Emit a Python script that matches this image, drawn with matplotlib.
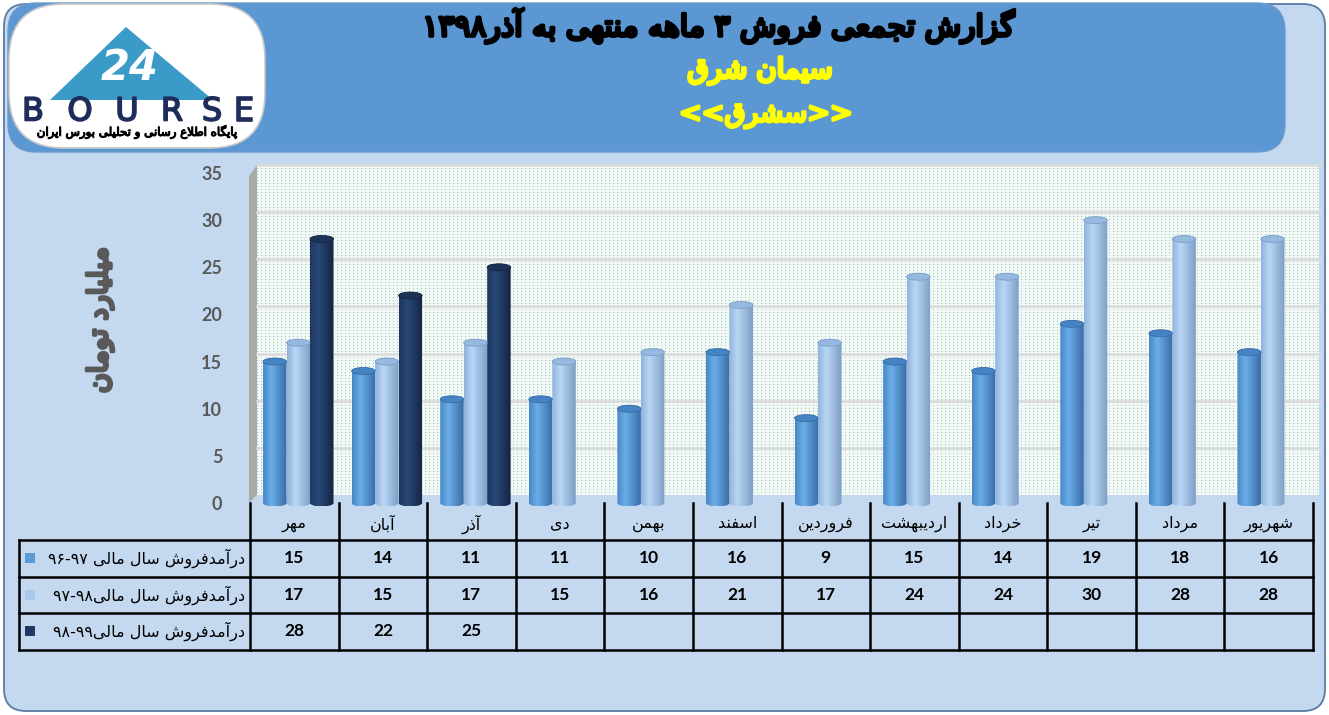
import re
import numpy as np
import matplotlib
matplotlib.use('Agg')
import matplotlib.pyplot as plt
import matplotlib.patheffects as pe
from matplotlib.patches import FancyBboxPatch, Ellipse, Polygon, Rectangle
from matplotlib import transforms

# data
months = ['مهر', 'آبان', 'آذر', 'دی', 'بهمن', 'اسفند', 'فروردین', 'اردیبهشت',
          'خرداد', 'تیر', 'مرداد', 'شهریور']
sales_96_97 = [15, 14, 11, 11, 10, 16, 9, 15, 14, 19, 18, 16]
sales_97_98 = [17, 15, 17, 15, 16, 21, 17, 24, 24, 30, 28, 28]
sales_98_99 = [28, 22, 25]
series_names = ['درآمدفروش سال مالی ۹۷-۹۶', 'درآمدفروش سال مالی۹۸-۹۷', 'درآمدفروش سال مالی۹۹-۹۸']
yticks = [0, 5, 10, 15, 20, 25, 30, 35]
title = 'گزارش تجمعی فروش ۳ ماهه منتهی به آذر۱۳۹۸'
company = 'سیمان شرق'
symbol = '<<سشرق>>'
ylabel = 'میلیارد تومان'
tagline = 'پایگاه اطلاع رسانی و تحلیلی بورس ایران'

# small persian shaper (matplotlib has no arabic shaping / bidi)
FORMS = {
    'ا': ('\uFE8D', '\uFE8E', None, None), 'آ': ('\uFE81', '\uFE82', None, None),
    'ب': ('\uFE8F', '\uFE90', '\uFE91', '\uFE92'), 'پ': ('\uFB56', '\uFB57', '\uFB58', '\uFB59'),
    'ت': ('\uFE95', '\uFE96', '\uFE97', '\uFE98'), 'ج': ('\uFE9D', '\uFE9E', '\uFE9F', '\uFEA0'),
    'ح': ('\uFEA1', '\uFEA2', '\uFEA3', '\uFEA4'), 'خ': ('\uFEA5', '\uFEA6', '\uFEA7', '\uFEA8'),
    'د': ('\uFEA9', '\uFEAA', None, None), 'ذ': ('\uFEAB', '\uFEAC', None, None),
    'ر': ('\uFEAD', '\uFEAE', None, None), 'ز': ('\uFEAF', '\uFEB0', None, None),
    'س': ('\uFEB1', '\uFEB2', '\uFEB3', '\uFEB4'), 'ش': ('\uFEB5', '\uFEB6', '\uFEB7', '\uFEB8'),
    'ط': ('\uFEC1', '\uFEC2', '\uFEC3', '\uFEC4'), 'ع': ('\uFEC9', '\uFECA', '\uFECB', '\uFECC'),
    'ف': ('\uFED1', '\uFED2', '\uFED3', '\uFED4'), 'ق': ('\uFED5', '\uFED6', '\uFED7', '\uFED8'),
    'ل': ('\uFEDD', '\uFEDE', '\uFEDF', '\uFEE0'), 'م': ('\uFEE1', '\uFEE2', '\uFEE3', '\uFEE4'),
    'ن': ('\uFEE5', '\uFEE6', '\uFEE7', '\uFEE8'), 'ه': ('\uFEE9', '\uFEEA', '\uFEEB', '\uFEEC'),
    'و': ('\uFEED', '\uFEEE', None, None), 'ی': ('\uFBFC', '\uFBFD', '\uFBFE', '\uFBFF'),
    'گ': ('\uFB92', '\uFB93', '\uFB94', '\uFB95'),
}
LAMALEF = {'ا': ('\uFEFB', '\uFEFC'), 'آ': ('\uFEF5', '\uFEF6')}
MIRROR = {'<': '>', '>': '<', '(': ')', ')': '('}


def shape(s):
    out = []
    i = 0
    while i < len(s):
        c = s[i]
        if c not in FORMS:
            out.append(c)
            i += 1
            continue
        prev = s[i - 1] if i > 0 else ''
        jp = prev in FORMS and FORMS[prev][2] is not None
        if c == 'ل' and i + 1 < len(s) and s[i + 1] in LAMALEF:
            out.append(LAMALEF[s[i + 1]][1 if jp else 0])
            i += 2
            continue
        nxt = s[i + 1] if i + 1 < len(s) else ''
        jn = FORMS[c][2] is not None and nxt in FORMS
        f = FORMS[c]
        out.append(f[3] if (jp and jn) else f[1] if jp else f[2] if jn else f[0])
        i += 1
    return ''.join(out)


def fa(s):
    toks = re.findall(r'[0-9\u06F0-\u06F9]+|.', shape(s))
    return ''.join(MIRROR.get(t, t) for t in reversed(toks))


def heavy(color, w=1.6):
    # dejavu has no bold arabic, so thicken with a stroke
    return [pe.withStroke(linewidth=w, foreground=color)]


W, H = 1329, 715
fig = plt.figure(figsize=(W / 100, H / 100), dpi=100)
fig.patch.set_facecolor('white')

bg = fig.add_axes([0, 0, 1, 1], zorder=0)
bg.set_xlim(0, W)
bg.set_ylim(H, 0)
bg.axis('off')

# frame and banner
bg.add_patch(FancyBboxPatch((4, 4), W - 8, H - 8, boxstyle='round,pad=0,rounding_size=22',
                            facecolor='#C4D9F0', edgecolor='#5A7AA6', lw=1.3))
bg.add_patch(FancyBboxPatch((8, 3), 1277, 149, boxstyle='round,pad=0,rounding_size=28',
                            facecolor='#5B97D3', edgecolor='#6E9BCB', lw=1))

# logo
bg.add_patch(FancyBboxPatch((9, 4), 256, 144, boxstyle='round,pad=0,rounding_size=55',
                            facecolor='white', edgecolor='#C8C8C8', lw=1.2))
bg.add_patch(Polygon([(50, 100), (126, 27), (213, 100)], closed=True, facecolor='#3A9BC8', edgecolor='none'))
bg.text(130, 68, '24', color='white', fontsize=30, fontweight='bold', fontstyle='italic',
        ha='center', va='center', family='DejaVu Sans')
for ch, xc in zip('BOURSE', [33, 80, 127, 172, 212, 244]):
    bg.text(xc, 112, ch, color='#1F2D5A', fontsize=23, ha='center', va='center', family='DejaVu Sans',
            path_effects=heavy('#1F2D5A', 1.2))
bg.text(137, 132, fa(tagline), fontsize=8.5, ha='center', va='center',
        family='DejaVu Sans', color='black', path_effects=heavy('black', 0.8))

# titles
bg.text(719, 26, fa(title), fontsize=21.5, ha='center', va='center',
        family='DejaVu Sans', color='black', path_effects=heavy('black', 2.4))
bg.text(760, 71, fa(company), fontsize=20, ha='center', va='center',
        family='DejaVu Sans', color='#FFFF00', path_effects=heavy('#FFFF00', 2.4))
bg.text(766, 115, fa(symbol), fontsize=19.5, ha='center', va='center',
        family='DejaVu Sans', color='#FFFF00', path_effects=heavy('#FFFF00', 2.2))

# y label
bg.text(100, 320, fa(ylabel), rotation=90, fontsize=19.5, ha='center', va='center',
        family='DejaVu Sans', color='#595959', path_effects=heavy('#595959', 2.4))

# back wall (dotted) and side wall
wall = np.ones((330, 1062, 3)) * np.array([0.95, 0.975, 0.965])
wall[::3, ::4] = [0.60, 0.79, 0.73]
bg.imshow(wall, extent=[257, 1319, 495, 165], interpolation='nearest', aspect='auto', zorder=1)
bg.add_patch(Polygon([(249, 176), (257, 165), (257, 495), (249, 503)], closed=True,
                     facecolor='#A8ABA8', edgecolor='none', zorder=1))
bg.set_xlim(0, W)
bg.set_ylim(H, 0)

# chart axes
X0, X1 = 250, 1313
ymin = -0.8
px_per_unit = 330 / 35
Ytop = 173
Ybot = 503 + (-ymin) * px_per_unit
ax = fig.add_axes([X0 / W, (H - Ybot) / H, (X1 - X0) / W, (Ybot - Ytop) / H], zorder=1)
ax.patch.set_alpha(0)
for sp in ax.spines.values():
    sp.set_visible(False)

shift = transforms.ScaledTranslation(7 / 100, 8 / 100, fig.dpi_scale_trans)
for v in yticks[1:]:
    ax.plot([-0.5, 11.5], [v, v], transform=ax.transData + shift, color='#DADADA', lw=1.8,
            zorder=2, clip_on=False)


def gradient(stops):
    pos = [0, 0.35, 1]
    t = np.linspace(0, 1, 64)
    cols = [matplotlib.colors.to_rgb(c) for c in stops]
    arr = np.stack([np.interp(t, pos, [c[k] for c in cols]) for k in range(3)], axis=-1)
    return arr[np.newaxis, :, :]


def cylinder(xc, h, w, stops, cap, b=0.37):
    t = np.linspace(np.pi, 2 * np.pi, 30)
    bottom = np.column_stack([xc + w / 2 * np.cos(t), b * np.sin(t)])
    t2 = np.linspace(0, np.pi, 30)
    top = np.column_stack([xc + w / 2 * np.cos(t2), h + b * np.sin(t2)])
    poly = Polygon(np.vstack([bottom, top]), closed=True, facecolor='none', edgecolor='none')
    ax.add_patch(poly)
    im = ax.imshow(gradient(stops), extent=[xc - w / 2, xc + w / 2, -b, h + b],
                   aspect='auto', interpolation='bilinear', zorder=3)
    im.set_clip_path(poly)
    ax.add_patch(Ellipse((xc, h), w, 2 * b, facecolor=cap, edgecolor=stops[2], lw=0.6, zorder=4))


bw = 0.265
gshift = 0.045
styles = [
    (['#4A86C5', '#6AAEEA', '#3A6CA5'], '#4584C4'),
    (['#8FB3DD', '#BAD7F5', '#7D9EC6'], '#95B9E0'),
    (['#1E365F', '#284878', '#142444'], '#1D3358'),
]
all_series = [sales_96_97, sales_97_98, sales_98_99]
for si, vals in enumerate(all_series):
    for i, v in enumerate(vals):
        cylinder(i + gshift + (si - 1) * bw, v, bw, styles[si][0], styles[si][1])

ax.set_xlim(-0.5, 11.5)
ax.set_ylim(ymin, 35)
ax.set_xticks([])
ax.set_yticks(yticks)
ax.set_yticklabels([str(v) for v in yticks], family='Lato', fontweight='bold', fontsize=13, color='#595959')
ax.tick_params(axis='y', length=0, pad=20)

# data table
trans = transforms.blended_transform_factory(ax.transData, bg.transData)
xleft = (19 - X0) / ((X1 - X0) / 12) - 0.5
row_lines = [540, 576.5, 613, 649.5]
row_mid = [558, 595, 631]
for k in range(13):
    bg.plot([k - 0.5, k - 0.5], [503, 649.5], transform=trans, color='black', lw=1.8, clip_on=False, zorder=5)
for yl in row_lines:
    bg.plot([xleft, 11.5], [yl, yl], transform=trans, color='black', lw=1.8, clip_on=False, zorder=5)
bg.plot([xleft, xleft], [540, 649.5], transform=trans, color='black', lw=1.8, clip_on=False, zorder=5)

for i, m in enumerate(months):
    bg.text(i, 524, fa(m), transform=trans, ha='center', va='center', fontsize=11.5,
            family='DejaVu Sans', color='black', zorder=6)
for si, vals in enumerate(all_series):
    for i, v in enumerate(vals):
        bg.text(i, row_mid[si], str(v), transform=trans, ha='center', va='center', fontsize=12.5,
                family='Lato', fontweight='bold', color='black', zorder=6)

sq_colors = ['#5B9BD5', '#A9C8EC', '#1F3864']
for si, name in enumerate(series_names):
    bg.add_patch(Rectangle((25, row_mid[si] - 5), 10, 10, facecolor=sq_colors[si], edgecolor='none', zorder=6))
    bg.text(245, row_mid[si], fa(name), ha='right', va='center', fontsize=11.5,
            family='DejaVu Sans', color='black', zorder=6)

fig.savefig('out.png', dpi=100)
